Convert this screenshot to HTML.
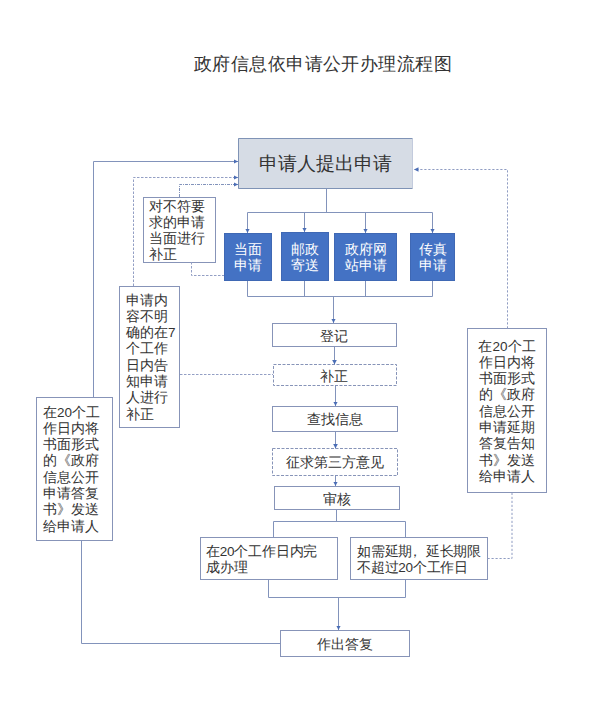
<!DOCTYPE html>
<html><head><meta charset="utf-8">
<style>
html,body{margin:0;padding:0;background:#fff;}
body{width:600px;height:707px;position:relative;overflow:hidden;font-family:"Liberation Sans",sans-serif;color:#333;}
svg{position:absolute;left:0;top:0;}
.t{position:absolute;white-space:nowrap;font-size:13.5px;line-height:16.3px;}
.c{text-align:center;}
.w{color:#fff;}
</style></head><body>
<svg width="600" height="707" viewBox="0 0 600 707">
<defs>
<marker id="ar" markerWidth="5" markerHeight="5" refX="4.5" refY="2.5" orient="auto" markerUnits="userSpaceOnUse">
<path d="M0,0.2 L4.5,2.5 L0,4.8 z" fill="#4a6db5"/>
</marker>
</defs>
<g fill="none" stroke="#8794b8" stroke-width="1">
<!-- boxes -->
<rect x="238" y="138" width="175" height="51" fill="#d6dce5" stroke="none"/>
<path d="M412.5 188.5 H238.5 V138.5 H412.5" stroke="#7f93b6"/>
<path d="M412.5 138.5 V188.5" stroke="#c3cbdd"/>
<rect x="272.5" y="323.5" width="124" height="23"/>
<rect x="273.5" y="364.5" width="123" height="21" stroke-dasharray="3 1.5"/>
<rect x="272.5" y="406.5" width="125" height="25"/>
<rect x="272.5" y="448.5" width="125" height="27" stroke-dasharray="3 1.5"/>
<rect x="274.5" y="486.5" width="125" height="23"/>
<rect x="200.5" y="537.5" width="137" height="42"/>
<rect x="350.5" y="537.5" width="137" height="42"/>
<rect x="280.5" y="630.5" width="129" height="26"/>
<rect x="143.5" y="197.5" width="72" height="65"/>
<rect x="119.5" y="286.5" width="60" height="141"/>
<rect x="36.5" y="397.5" width="76" height="143"/>
<rect x="467.5" y="328.5" width="79" height="164"/>
</g>
<g fill="#4472c4" stroke="#3f68b4" stroke-width="1">
<rect x="224.5" y="233.5" width="47" height="47"/>
<rect x="281.5" y="232.5" width="47" height="48"/>
<rect x="334.5" y="233.5" width="62" height="47"/>
<rect x="410.5" y="233.5" width="44" height="47"/>
</g>
<g fill="none" stroke="#8293bb" stroke-width="1">
<path d="M326.5 188.5 V212.5 M247.5 212.5 H432.5"/>
<path d="M247.5 212.5 V233" marker-end="url(#ar)"/>
<path d="M304.5 212.5 V232" marker-end="url(#ar)"/>
<path d="M365.5 212.5 V233" marker-end="url(#ar)"/>
<path d="M432.5 212.5 V233" marker-end="url(#ar)"/>
<path d="M247.5 281 V296.5 M304.5 281 V296.5 M365.5 281 V296.5 M432.5 281 V296.5 M247.5 296.5 H432.5"/>
<path d="M333.5 296.5 V323" marker-end="url(#ar)"/>
<path d="M334.5 347 V364.5" marker-end="url(#ar)"/>
<path d="M335.5 385.5 V406" marker-end="url(#ar)"/>
<path d="M335.5 431.5 V448.5" marker-end="url(#ar)"/>
<path d="M335.5 475 V486" marker-end="url(#ar)"/>
<path d="M336.5 509.5 V521.5 M273.5 521.5 H405.5 M273.5 521.5 V537.5 M405.5 521.5 V537.5"/>
<path d="M268.5 579.5 V597.5 H405.5 V579.5"/>
<path d="M338.5 597.5 V630" marker-end="url(#ar)"/>
<path d="M93.5 397 V161.5 H238" marker-end="url(#ar)"/>
<path d="M81.5 540 V643.5 H280.5"/>
</g>
<g fill="none" stroke="#939fc4" stroke-width="1" stroke-dasharray="2.5 1.5">
<path d="M133.5 286 V177.5 H238" marker-end="url(#ar)"/>
<path d="M180 374.5 H273"/>
<path d="M191.5 262 V275.5 H224"/>
</g>
<g fill="none" stroke="#8293bb" stroke-width="1" stroke-dasharray="3 1 1 1">
<path d="M179.5 197 V184.5 H238" marker-end="url(#ar)"/>
</g>
<g fill="none" stroke="#8f9cc2" stroke-width="1" stroke-dasharray="2.2 1.8">
<path d="M487.5 558.5 H512 V492.5"/>
<path d="M507.5 328.5 V169.5 H414" marker-end="url(#ar)"/>
</g>
</svg>

<div class="t" style="left:194px;top:51.5px;font-size:18px;letter-spacing:0.43px;line-height:24px;">政府信息依申请公开办理流程图</div>
<div class="t" style="left:259px;top:151.5px;font-size:19px;line-height:24px;">申请人提出申请</div>

<div class="t c w" style="left:224px;top:241.5px;width:48px;">当面<br>申请</div>
<div class="t c w" style="left:281px;top:241.5px;width:48px;">邮政<br>寄送</div>
<div class="t c w" style="left:334px;top:241.5px;width:63px;">政府网<br>站申请</div>
<div class="t c w" style="left:410px;top:241.5px;width:45px;">传真<br>申请</div>

<div class="t c" style="left:271px;top:328.5px;width:125px;">登记</div>
<div class="t c" style="left:271px;top:368.5px;width:125px;">补正</div>
<div class="t c" style="left:272px;top:411.5px;width:125px;">查找信息</div>
<div class="t c" style="left:272px;top:454.5px;width:125px;">征求第三方意见</div>
<div class="t c" style="left:274px;top:491.5px;width:125px;">审核</div>
<div class="t" style="left:206px;top:543.5px;letter-spacing:-0.2px;">在20个工作日内完<br>成办理</div>
<div class="t" style="left:357px;top:543.5px;letter-spacing:-0.25px;">如需延期<span style="position:relative;left:-4.5px;">，</span>延长期限<br>不超过20个工作日</div>
<div class="t c" style="left:281px;top:636.5px;width:128px;">作出答复</div>

<div class="t" style="left:149px;top:198.5px;">对不符要<br>求的申请<br>当面进行<br>补正</div>
<div class="t" style="left:126px;top:292.5px;">申请内<br>容不明<br>确的在7<br>个工作<br>日内告<br>知申请<br>人进行<br>补正</div>
<div class="t" style="left:43px;top:404.5px;">在20个工<br>作日内将<br>书面形式<br>的《政府<br>信息公开<br>申请答复<br>书》发送<br>给申请人</div>
<div class="t c" style="left:467px;top:338.5px;width:80px;">在20个工<br>作日内将<br>书面形式<br>的《政府<br>信息公开<br>申请延期<br>答复告知<br>书》发送<br>给申请人</div>
</body></html>
